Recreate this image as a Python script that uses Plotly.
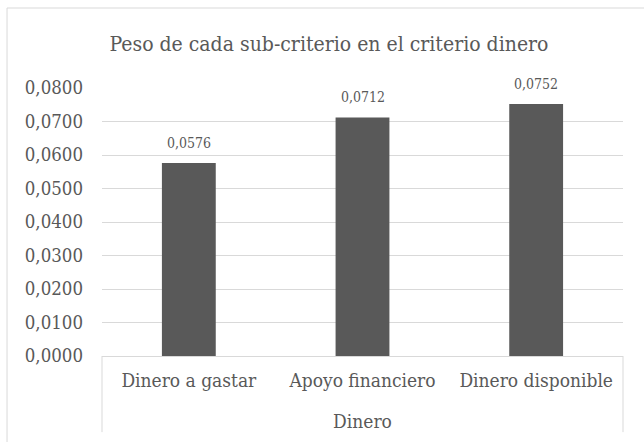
import plotly.graph_objects as go

group = "Dinero"
categories = ["Dinero a gastar", "Apoyo financiero", "Dinero disponible"]
values = [0.0576, 0.0712, 0.0752]
title_text = "Peso de cada sub-criterio en el criterio dinero"

FONT = "DejaVu Serif Condensed"
GRAY = "#595959"
LIGHT = "#d9d9d9"

fig = go.Figure()
fig.add_trace(go.Bar(
    x=categories,
    y=values,
    marker=dict(color=GRAY, line=dict(width=0)),
    width=0.31,
    hoverinfo="skip",
))

for c, v in zip(categories, values):
    fig.add_annotation(
        x=c, y=v, xref="x", yref="y",
        text=f"{v:.4f}".replace(".", ","),
        showarrow=False, yanchor="bottom", yshift=10,
        font=dict(family=FONT, size=14, color=GRAY),
    )

# outer chart border
fig.add_shape(type="rect", xref="paper", yref="paper",
              x0=-0.1823, x1=1.06, y0=-0.4, y1=1.2985,
              line=dict(color=LIGHT, width=1), fillcolor="rgba(0,0,0,0)", layer="below")
# group dividers at both ends of the category axis
for xp in (0, 1):
    fig.add_shape(type="line", xref="paper", yref="paper",
                  x0=xp, x1=xp, y0=0, y1=-0.284,
                  line=dict(color=LIGHT, width=1))

fig.update_layout(
    width=644, height=442,
    margin=dict(l=102, r=21, t=88, b=86),
    paper_bgcolor="white", plot_bgcolor="white",
    separators=",.",
    showlegend=False,
    title=dict(text=title_text, x=0.4357, xref="paper", xanchor="center",
               y=1 - 44 / 442, yanchor="middle",
               font=dict(family=FONT, size=21, color=GRAY)),
    font=dict(family=FONT, color=GRAY),
    yaxis=dict(range=[0, 0.08], dtick=0.01, tickformat=".4f", automargin=False,
               showgrid=True, gridcolor=LIGHT, gridwidth=1,
               zeroline=False, showline=False, ticks="", ticklabelstandoff=18,
               tickfont=dict(family=FONT, size=18.5, color=GRAY)),
    xaxis=dict(type="category", showline=True, linecolor=LIGHT, linewidth=1,
               ticks="", showgrid=False, ticklabelstandoff=7, tickangle=0,
               automargin=False,
               tickfont=dict(family=FONT, size=19, color=GRAY),
               title=dict(text=group, standoff=24,
                          font=dict(family=FONT, size=19, color=GRAY))),
)

fig.write_html("out.html")
